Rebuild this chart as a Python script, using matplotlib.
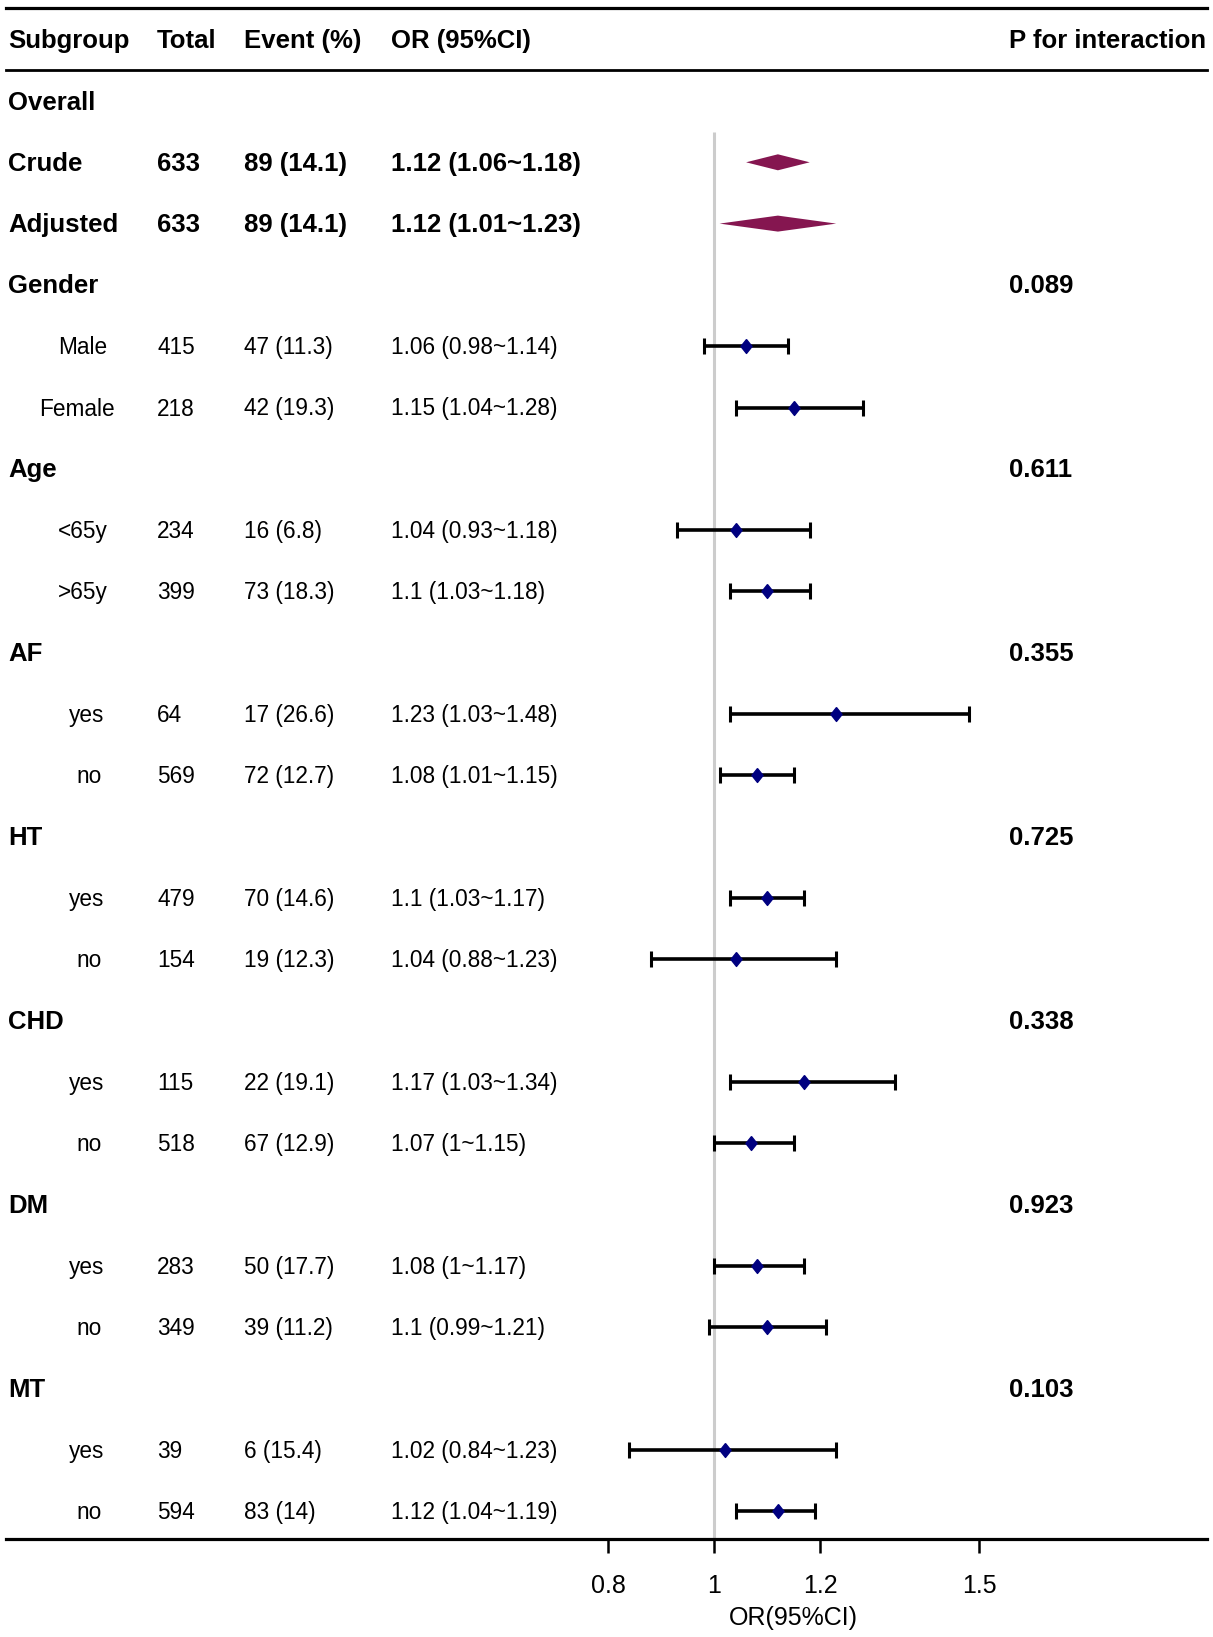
import matplotlib
matplotlib.use("Agg")
import matplotlib.pyplot as plt
from matplotlib.lines import Line2D
from matplotlib.transforms import blended_transform_factory
import numpy as np

plt.rcParams['font.family'] = ['Liberation Sans', 'DejaVu Sans']

# ---------------- data ----------------
labels = ["Overall", "Crude", "Adjusted",
          "Gender", "Male", "Female",
          "Age", "<65y", ">65y",
          "AF", "yes", "no",
          "HT", "yes", "no",
          "CHD", "yes", "no",
          "DM", "yes", "no",
          "MT", "yes", "no"]
# row kind: 'head' = bold group title, 'overall' = bold summary row, 'sub' = subgroup row
kinds = ["head", "overall", "overall",
         "head", "sub", "sub",
         "head", "sub", "sub",
         "head", "sub", "sub",
         "head", "sub", "sub",
         "head", "sub", "sub",
         "head", "sub", "sub",
         "head", "sub", "sub"]
totals = ["", "633", "633",
          "", "415", "218",
          "", "234", "399",
          "", "64", "569",
          "", "479", "154",
          "", "115", "518",
          "", "283", "349",
          "", "39", "594"]
events = ["", "89 (14.1)", "89 (14.1)",
          "", "47 (11.3)", "42 (19.3)",
          "", "16 (6.8)", "73 (18.3)",
          "", "17 (26.6)", "72 (12.7)",
          "", "70 (14.6)", "19 (12.3)",
          "", "22 (19.1)", "67 (12.9)",
          "", "50 (17.7)", "39 (11.2)",
          "", "6 (15.4)", "83 (14)"]
est = [np.nan, 1.12, 1.12,
       np.nan, 1.06, 1.15,
       np.nan, 1.04, 1.10,
       np.nan, 1.23, 1.08,
       np.nan, 1.10, 1.04,
       np.nan, 1.17, 1.07,
       np.nan, 1.08, 1.10,
       np.nan, 1.02, 1.12]
lo = [np.nan, 1.06, 1.01,
      np.nan, 0.98, 1.04,
      np.nan, 0.93, 1.03,
      np.nan, 1.03, 1.01,
      np.nan, 1.03, 0.88,
      np.nan, 1.03, 1.00,
      np.nan, 1.00, 0.99,
      np.nan, 0.84, 1.04]
hi = [np.nan, 1.18, 1.23,
      np.nan, 1.14, 1.28,
      np.nan, 1.18, 1.18,
      np.nan, 1.48, 1.15,
      np.nan, 1.17, 1.23,
      np.nan, 1.34, 1.15,
      np.nan, 1.17, 1.21,
      np.nan, 1.23, 1.19]
p_int = ["", "", "",
         "0.089", "", "",
         "0.611", "", "",
         "0.355", "", "",
         "0.725", "", "",
         "0.338", "", "",
         "0.923", "", "",
         "0.103", "", ""]
headers = ["Subgroup", "Total", "Event (%)", "OR (95%CI)", "P for interaction"]
xticks = [0.8, 1, 1.2, 1.5]
xtick_labels = ["0.8", "1", "1.2", "1.5"]
xlabel = "OR(95%CI)"

# ---------------- layout ----------------
W, H = 1213, 1637
fig = plt.figure(figsize=(W / 100, H / 100), dpi=100)

px_left, px_right = 6, 1207
px_top, px_bottom = 70, 1539
ax = fig.add_axes([px_left / W, 1 - px_bottom / H,
                   (px_right - px_left) / W, (px_bottom - px_top) / H])

ref_px, unit_px = 714.3, 530.0          # pixel of OR=1, pixels per OR unit
row0_px, row_px = 101.0, 61.3            # pixel of row 0, pixels per row


def vx(px):
    return 1 + (px - ref_px) / unit_px


def ry(px):
    return (px - row0_px) / row_px


ax.set_xlim(vx(px_left), vx(px_right))
ax.set_ylim(ry(px_bottom), ry(px_top))

for s in ["left", "right"]:
    ax.spines[s].set_visible(False)
ax.spines["bottom"].set_linewidth(2.3)
ax.spines["top"].set_linewidth(2.0)
ax.set_yticks([])
ax.set_xticks(xticks)
ax.set_xticklabels(xtick_labels)
ax.tick_params(axis="x", length=10, width=1.8, labelsize=18, pad=15.5, colors="black")

# top border of the table
fig.add_artist(Line2D([px_left / W, px_right / W], [1 - 7.5 / H] * 2,
                      lw=2.3, color="black"))

# reference line
ax.vlines(1, 0.5, ry(px_bottom), color="#cccccc", lw=2.2, zorder=1)

rows = np.arange(len(labels))
est_a, lo_a, hi_a = np.array(est), np.array(lo), np.array(hi)

# subgroup points
sub_mask = np.array([k == "sub" for k in kinds])
ax.errorbar(est_a[sub_mask], rows[sub_mask],
            xerr=[est_a[sub_mask] - lo_a[sub_mask], hi_a[sub_mask] - est_a[sub_mask]],
            fmt="none", ecolor="black", elinewidth=2.6, capsize=5.6, capthick=2.2, zorder=2)
diamond = [(0, 1), (0.8, 0), (0, -1), (-0.8, 0), (0, 1)]
ax.plot(est_a[sub_mask], rows[sub_mask], linestyle="none", marker=diamond,
        markersize=10, color="#000080", zorder=3)

# overall diamonds
dh = 8.0 / row_px
for r in rows[np.array([k == "overall" for k in kinds])]:
    ax.fill([lo_a[r], est_a[r], hi_a[r], est_a[r]], [r, r - dh, r, r + dh],
            color="#851650", lw=0, zorder=3)

# table text
tr = blended_transform_factory(fig.transFigure, ax.transData)
col_px = {"sub_label": 8, "total": 157, "event": 244.5, "or": 391, "p": 1009}
sub_anchor_px, sub_anchor_frac = 94.4, 0.73
fs_bold, fs_reg = 18.5, 16.3
toff = 1.5 / row_px
renderer = fig.canvas.get_renderer()

for r in rows:
    kind = kinds[r]
    bold = kind != "sub"
    fw = "bold" if bold else "normal"
    fs = fs_bold if bold else fs_reg
    y = r + toff
    t = ax.text(col_px["sub_label"] / W, y, labels[r], transform=tr, ha="left",
                va="center", fontsize=fs, fontweight=fw, clip_on=False)
    if kind == "sub":
        w = t.get_window_extent(renderer).width
        t.set_x((sub_anchor_px - sub_anchor_frac * w) / W)
    if totals[r]:
        ax.text(col_px["total"] / W, y, totals[r], transform=tr, ha="left",
                va="center", fontsize=fs, fontweight=fw, clip_on=False)
    if events[r]:
        ax.text(col_px["event"] / W, y, events[r], transform=tr, ha="left",
                va="center", fontsize=fs, fontweight=fw, clip_on=False)
    if not np.isnan(est_a[r]):
        txt = f"{est_a[r]:g} ({lo_a[r]:g}~{hi_a[r]:g})"
        ax.text(col_px["or"] / W, y, txt, transform=tr, ha="left",
                va="center", fontsize=fs, fontweight=fw, clip_on=False)
    if p_int[r]:
        ax.text(col_px["p"] / W, y, p_int[r], transform=tr, ha="left",
                va="center", fontsize=fs_bold, fontweight="bold", clip_on=False)

# header
hdr_y = 1 - 41 / H
for h, key in zip(headers, ["sub_label", "total", "event", "or", "p"]):
    fig.text(col_px[key] / W, hdr_y, h, ha="left", va="center",
             fontsize=fs_bold, fontweight="bold")

# x label centred under tick range
ax.text(np.mean([min(xticks), max(xticks)]), ry(1618), xlabel, ha="center", va="center",
        fontsize=18, clip_on=False)

fig.savefig("out.png", dpi=100)
